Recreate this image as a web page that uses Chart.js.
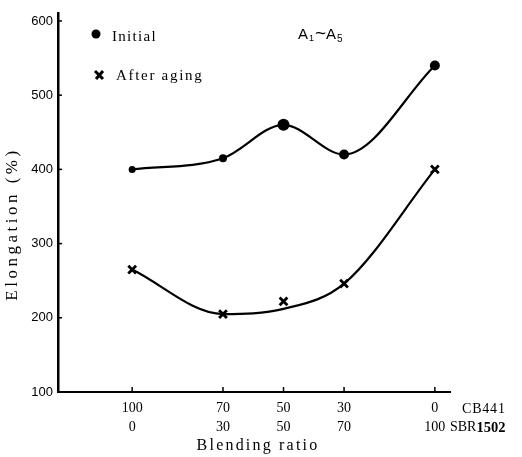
<!DOCTYPE html>
<html><head><meta charset="utf-8">
<script src="https://cdn.jsdelivr.net/npm/chart.js@4/dist/chart.umd.min.js"></script>
<style>html,body{margin:0;padding:0;background:#fff}canvas{display:block}</style>
</head><body>
<canvas id="c" width="522" height="457"></canvas>
<script>
// Blending ratio (CB441 / SBR1502)
const cb441 = [100, 70, 50, 30, 0];
const sbr1502 = [0, 30, 50, 70, 100];
// Elongation (%)
const initialElong = [400, 415, 460, 420, 540];
const agedElong = [265, 205, 222, 246, 400];
const agedFitCurve = [265, 205, 212, 246, 400];
const yTickValues = [100, 200, 300, 400, 500, 600];

const toPts = vals => cb441.map((x, i) => ({x: x, y: vals[i]}));
const SERIF = '"Liberation Serif", "DejaVu Serif", serif';
const SANS = '"Liberation Sans", Arial, sans-serif';

const extras = {
  id: 'extras',
  afterDraw(chart) {
    const ctx = chart.ctx, xs = chart.scales.x, ys = chart.scales.y, a = chart.chartArea;
    ctx.save();
    ctx.strokeStyle = '#000'; ctx.fillStyle = '#000'; ctx.lineWidth = 1.5;
    // inward tick marks
    yTickValues.forEach(v => { const y = ys.getPixelForValue(v);
      ctx.beginPath(); ctx.moveTo(a.left, y); ctx.lineTo(a.left + 4, y); ctx.stroke(); });
    cb441.forEach(v => { const x = xs.getPixelForValue(v);
      ctx.beginPath(); ctx.moveTo(x, a.bottom); ctx.lineTo(x, a.bottom - 5); ctx.stroke(); });
    // y title
    ctx.save();
    ctx.font = '17px ' + SERIF; ctx.letterSpacing = '3.5px';
    ctx.textAlign = 'center'; ctx.textBaseline = 'middle';
    ctx.translate(13, 224); ctx.rotate(-Math.PI / 2);
    ctx.fillText('Elongation (%)', 0, 0);
    ctx.restore();
    // x title
    ctx.save();
    ctx.font = '16px ' + SERIF; ctx.letterSpacing = '2.2px';
    ctx.textAlign = 'center'; ctx.textBaseline = 'middle';
    ctx.fillText('Blending ratio', 258, 446);
    ctx.restore();
    // component names
    ctx.save();
    ctx.font = '14px ' + SERIF; ctx.letterSpacing = '0.8px';
    ctx.textAlign = 'left'; ctx.textBaseline = 'middle';
    ctx.fillText('CB441', 462, 409);
    ctx.letterSpacing = '0px';
    ctx.fillText('SBR', 450, 427);
    const w = ctx.measureText('SBR').width;
    ctx.font = 'bold 14.5px ' + SERIF;
    ctx.fillText('1502', 450 + w, 428);
    ctx.restore();
    // legend
    ctx.save();
    ctx.beginPath(); ctx.arc(96, 34, 4.5, 0, Math.PI * 2); ctx.fill();
    ctx.lineWidth = 3;
    ctx.beginPath(); ctx.moveTo(95, 71); ctx.lineTo(103, 79); ctx.moveTo(103, 71); ctx.lineTo(96, 79); ctx.stroke();
    ctx.font = '15px ' + SERIF; ctx.letterSpacing = '1.3px';
    ctx.textAlign = 'left'; ctx.textBaseline = 'middle';
    ctx.fillText('Initial', 112, 37);
    ctx.letterSpacing = '1.7px';
    ctx.fillText('After aging', 116, 76);
    ctx.restore();
    // A1~A5
    ctx.save();
    ctx.textAlign = 'left'; ctx.textBaseline = 'alphabetic';
    let x = 298;
    ctx.font = '15px ' + SANS; ctx.fillText('A', x, 39); x += ctx.measureText('A').width;
    ctx.font = '9px ' + SANS; ctx.fillText('1', x + 1, 41); x += ctx.measureText('1').width + 2;
    ctx.font = '19px ' + SANS; ctx.fillText('~', x, 39); x += ctx.measureText('~').width;
    ctx.font = '15px ' + SANS; ctx.fillText('A', x, 39); x += ctx.measureText('A').width;
    ctx.font = '10px ' + SANS; ctx.fillText('5', x + 1, 42);
    ctx.restore();
    ctx.restore();
  }
};

new Chart(document.getElementById('c'), {
  type: 'scatter',
  data: {
    datasets: [
      { label: 'Initial', data: toPts(initialElong), showLine: true,
        cubicInterpolationMode: 'monotone', borderColor: '#000', borderWidth: 2.2,
        pointStyle: 'circle', pointRadius: [3.5, 4, 6, 5, 5],
        pointBackgroundColor: '#000', pointBorderColor: '#000', pointBorderWidth: 0 },
      { label: 'After aging curve', data: toPts(agedFitCurve), showLine: true,
        cubicInterpolationMode: 'monotone', borderColor: '#000', borderWidth: 2.2, pointRadius: 0 },
      { label: 'After aging', data: toPts(agedElong), showLine: false,
        pointStyle: 'crossRot', pointRadius: 5.5, pointBorderColor: '#000', pointBorderWidth: 2.8 }
    ]
  },
  options: {
    responsive: false, animation: false,
    layout: { padding: { top: 9, right: 72, left: 0, bottom: 0 } },
    plugins: { legend: { display: false }, tooltip: { enabled: false } },
    scales: {
      x: {
        type: 'linear', reverse: true, min: -5, max: 124.5,
        afterBuildTicks: s => { s.ticks = cb441.map(v => ({ value: v })); },
        afterFit: s => { s.height = 65; },
        grid: { display: false, drawTicks: false },
        border: { display: true, color: '#000', width: 2 },
        ticks: {
          padding: 7, color: '#000', maxRotation: 0, autoSkip: false,
          font: { family: SERIF, size: 14, lineHeight: 1.35 },
          callback: v => { const i = cb441.indexOf(v); return i < 0 ? '' : [String(cb441[i]), String(sbr1502[i])]; }
        }
      },
      y: {
        type: 'linear', min: 100, max: 611,
        afterBuildTicks: s => { s.ticks = yTickValues.map(v => ({ value: v })); },
        afterFit: s => { s.width = 58; },
        grid: { display: false, drawTicks: false },
        border: { display: true, color: '#000', width: 2.5 },
        ticks: { padding: 5, color: '#000', font: { family: SANS, size: 13 } }
      }
    }
  },
  plugins: [extras]
});
</script>
</body></html>
